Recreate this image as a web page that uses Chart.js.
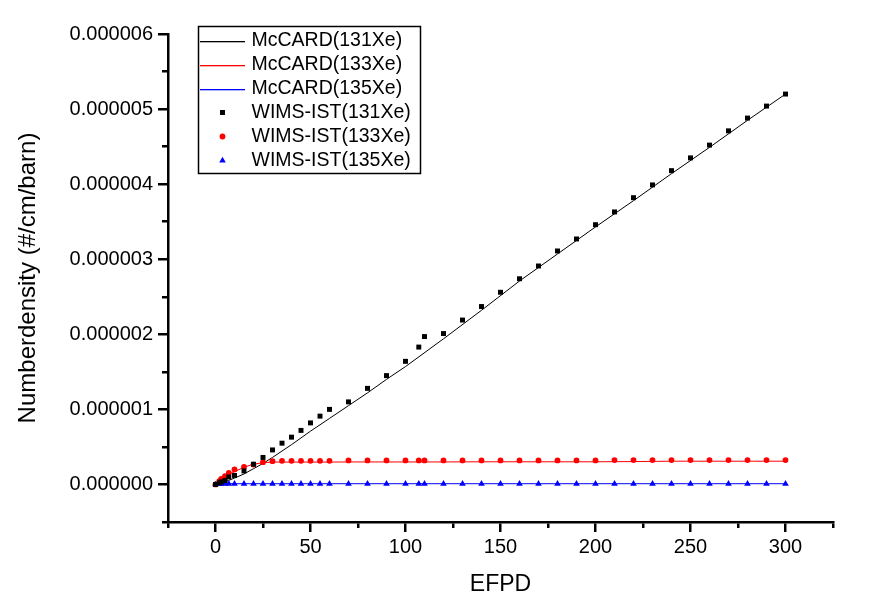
<!DOCTYPE html>
<html>
<head>
<meta charset="utf-8">
<script src="https://cdn.jsdelivr.net/npm/chart.js@4.4.1/dist/chart.umd.min.js"></script>
<style>
  html, body { margin: 0; padding: 0; background: #fff; }
  canvas { display: block; }
</style>
</head>
<body>
<canvas id="c" width="869" height="606"></canvas>
<script>
// ---- data (number densities in #/cm/barn) ----
const seriesNames = ['McCARD(131Xe)', 'McCARD(133Xe)', 'McCARD(135Xe)',
                     'WIMS-IST(131Xe)', 'WIMS-IST(133Xe)', 'WIMS-IST(135Xe)'];
const seriesColors = ['#000000', '#ff0000', '#0000ff', '#000000', '#ff0000', '#0000ff'];

const mcX = [0, 1, 2, 3, 5, 7, 10, 15, 20, 25, 30, 40, 50, 60, 70, 80, 90, 100,
             120, 140, 160, 180, 200, 220, 240, 260, 280, 300];
const mc131 = [0, 0.005e-6, 0.012e-6, 0.02e-6, 0.035e-6, 0.055e-6, 0.085e-6, 0.14e-6,
               0.21e-6, 0.28e-6, 0.36e-6, 0.53e-6, 0.71e-6, 0.88e-6, 1.05e-6, 1.22e-6,
               1.40e-6, 1.57e-6, 1.94e-6, 2.32e-6, 2.71e-6, 3.07e-6, 3.43e-6, 3.78e-6,
               4.14e-6, 4.49e-6, 4.85e-6, 5.20e-6];
const mc133 = [0, 0.02e-6, 0.04e-6, 0.06e-6, 0.09e-6, 0.13e-6, 0.17e-6, 0.23e-6,
               0.27e-6, 0.29e-6, 0.298e-6, 0.298e-6, 0.298e-6, 0.298e-6, 0.30e-6, 0.30e-6,
               0.30e-6, 0.30e-6, 0.30e-6, 0.302e-6, 0.302e-6, 0.302e-6, 0.302e-6, 0.305e-6,
               0.31e-6, 0.31e-6, 0.31e-6, 0.31e-6];
const mc135 = [0, 0.005e-6, 0.008e-6, 0.009e-6, 0.01e-6, 0.01e-6, 0.01e-6, 0.01e-6,
               0.01e-6, 0.01e-6, 0.01e-6, 0.01e-6, 0.01e-6, 0.01e-6, 0.01e-6, 0.01e-6,
               0.01e-6, 0.01e-6, 0.01e-6, 0.01e-6, 0.01e-6, 0.01e-6, 0.01e-6, 0.01e-6,
               0.01e-6, 0.01e-6, 0.01e-6, 0.01e-6];

const wimsX = [0, 2, 3, 5, 7, 10, 15, 20, 25, 30, 35, 40, 45, 50, 55, 60, 70, 80, 90,
               100, 107, 110, 120, 130, 140, 150, 160, 170, 180, 190, 200, 210, 220,
               230, 240, 250, 260, 270, 280, 290, 300];
const wims131 = [0, 0.02e-6, 0.035e-6, 0.053e-6, 0.10e-6, 0.12e-6, 0.18e-6, 0.27e-6,
                 0.36e-6, 0.46e-6, 0.55e-6, 0.63e-6, 0.72e-6, 0.82e-6, 0.91e-6, 1.00e-6,
                 1.10e-6, 1.28e-6, 1.45e-6, 1.64e-6, 1.83e-6, 1.97e-6, 2.01e-6, 2.19e-6,
                 2.37e-6, 2.56e-6, 2.74e-6, 2.91e-6, 3.11e-6, 3.27e-6, 3.46e-6, 3.63e-6,
                 3.82e-6, 3.99e-6, 4.18e-6, 4.35e-6, 4.52e-6, 4.71e-6, 4.88e-6, 5.04e-6,
                 5.20e-6];
const wims133 = [0, 0.045e-6, 0.075e-6, 0.11e-6, 0.155e-6, 0.20e-6, 0.235e-6, 0.265e-6,
                 0.297e-6, 0.31e-6, 0.315e-6, 0.315e-6, 0.315e-6, 0.315e-6, 0.315e-6, 0.315e-6,
                 0.32e-6, 0.32e-6, 0.32e-6, 0.32e-6, 0.32e-6, 0.32e-6, 0.32e-6, 0.32e-6,
                 0.32e-6, 0.32e-6, 0.32e-6, 0.32e-6, 0.32e-6, 0.32e-6, 0.32e-6, 0.325e-6,
                 0.325e-6, 0.325e-6, 0.325e-6, 0.325e-6, 0.325e-6, 0.325e-6, 0.325e-6, 0.325e-6,
                 0.325e-6];
const wims135 = [0, 0.008e-6, 0.008e-6, 0.008e-6, 0.008e-6, 0.008e-6, 0.008e-6, 0.008e-6,
                 0.008e-6, 0.008e-6, 0.008e-6, 0.008e-6, 0.008e-6, 0.008e-6, 0.008e-6, 0.008e-6,
                 0.008e-6, 0.008e-6, 0.008e-6, 0.008e-6, 0.008e-6, 0.008e-6, 0.008e-6, 0.008e-6,
                 0.008e-6, 0.008e-6, 0.008e-6, 0.008e-6, 0.008e-6, 0.008e-6, 0.008e-6, 0.008e-6,
                 0.008e-6, 0.008e-6, 0.008e-6, 0.008e-6, 0.008e-6, 0.008e-6, 0.008e-6, 0.008e-6,
                 0.008e-6];

const xTickStep = 25, xLabelStep = 50;
const yTickStep = 0.5e-6;

// ---- helpers ----
function pts(xs, ys) { return xs.map(function (x, i) { return { x: x, y: ys[i] }; }); }

Chart.defaults.font.family = '"Liberation Sans", Arial, sans-serif';
Chart.defaults.color = '#000';

const boxLegend = {
  id: 'boxLegend',
  afterDraw(chart) {
    const ctx = chart.ctx, a = chart.chartArea;
    const x0 = a.left + 30.5, y0 = a.top - 7.5, w = 222, h = 147;
    ctx.save();
    ctx.fillStyle = '#fff';
    ctx.fillRect(x0, y0, w, h);
    ctx.lineWidth = 1.5;
    ctx.strokeStyle = '#000';
    ctx.strokeRect(x0, y0, w, h);
    ctx.font = '19.5px "Liberation Sans", Arial, sans-serif';
    ctx.textBaseline = 'middle';
    ctx.textAlign = 'left';
    chart.data.datasets.forEach(function (ds, i) {
      const cy = y0 + 14 + i * 24;
      const col = seriesColors[i];
      if (ds.showLine !== false) {
        ctx.fillStyle = col;
        ctx.fillRect(x0 + 1.5, Math.round(cy), 45, 1.3);
      } else {
        ctx.save();
        ctx.fillStyle = col;
        ctx.strokeStyle = col;
        Chart.helpers.drawPoint(ctx, {
          pointStyle: ds.pointStyle, rotation: 0,
          radius: ds.pointRadius, borderWidth: 0
        }, x0 + 24, cy);
        ctx.restore();
      }
      ctx.fillStyle = '#000';
      ctx.fillText(ds.label, x0 + 53, cy);
    });
    ctx.restore();
  }
};

function lineDs(i, xs, ys) {
  return {
    label: seriesNames[i], data: pts(xs, ys), borderColor: seriesColors[i],
    backgroundColor: seriesColors[i],
    borderWidth: 1, pointRadius: 0, showLine: true, fill: false, tension: 0, order: 2
  };
}
function markDs(i, xs, ys, style, r) {
  return {
    label: seriesNames[i], data: pts(xs, ys), showLine: false,
    pointStyle: style, pointRadius: r, pointBorderWidth: 0,
    pointBackgroundColor: seriesColors[i], pointBorderColor: seriesColors[i],
    borderColor: seriesColors[i], backgroundColor: seriesColors[i], order: 1
  };
}

new Chart(document.getElementById('c'), {
  type: 'line',
  data: {
    datasets: [
      lineDs(0, mcX, mc131),
      lineDs(1, mcX, mc133),
      lineDs(2, mcX, mc135),
      markDs(3, wimsX, wims131, 'rect', 3.5),
      markDs(4, wimsX, wims133, 'circle', 2.9),
      markDs(5, wimsX, wims135, 'triangle', 3.8)
    ]
  },
  options: {
    responsive: false,
    animation: false,
    devicePixelRatio: 1,
    layout: { padding: { top: 34, right: 36, left: 0, bottom: 0 } },
    plugins: { legend: { display: false }, tooltip: { enabled: false } },
    scales: {
      x: {
        type: 'linear', min: -25, max: 325,
        afterFit: function (s) { s.height = 84; },
        border: { display: true, color: '#000', width: 2.5 },
        grid: {
          drawOnChartArea: false, drawTicks: true, tickLength: 10,
          tickColor: '#000', tickWidth: 2.5, lineWidth: 2.5,
          tickBorderDash: function (c) {
            return (c.tick && Math.round(c.tick.value) % xLabelStep !== 0) ? [4.5, 100] : [];
          }
        },
        ticks: {
          stepSize: xTickStep, autoSkip: false, maxRotation: 0, maxTicksLimit: 100,
          padding: 3, color: '#000',
          font: { size: 20 },
          callback: function (v) { return (Math.round(v) % xLabelStep === 0) ? String(v) : ''; }
        },
        title: {
          display: true, text: 'EFPD', color: '#000',
          font: { size: 23 }, padding: { top: 0, bottom: 8 }
        }
      },
      y: {
        type: 'linear', min: -0.5e-6, max: 6e-6,
        afterFit: function (s) { s.width = 168; },
        border: { display: true, color: '#000', width: 2.5 },
        grid: {
          drawOnChartArea: false, drawTicks: true, tickLength: 10,
          tickColor: '#000', tickWidth: 2.5, lineWidth: 2.5,
          tickBorderDash: function (c) {
            return (c.tick && Math.round(c.tick.value / yTickStep) % 2 !== 0) ? [0, 4, 6, 100] : [];
          }
        },
        ticks: {
          stepSize: yTickStep, autoSkip: false, maxTicksLimit: 100,
          padding: 5, color: '#000',
          font: { size: 20 },
          callback: function (v) {
            return (Math.round(v / yTickStep) % 2 === 0) ? (Math.abs(v) < 1e-12 ? 0 : v).toFixed(6) : '';
          }
        },
        title: {
          display: true, text: 'Numberdensity (#/cm/barn)', color: '#000',
          font: { size: 24 }, padding: { top: 14, bottom: 0 }
        }
      }
    }
  },
  plugins: [boxLegend]
});
</script>
</body>
</html>
